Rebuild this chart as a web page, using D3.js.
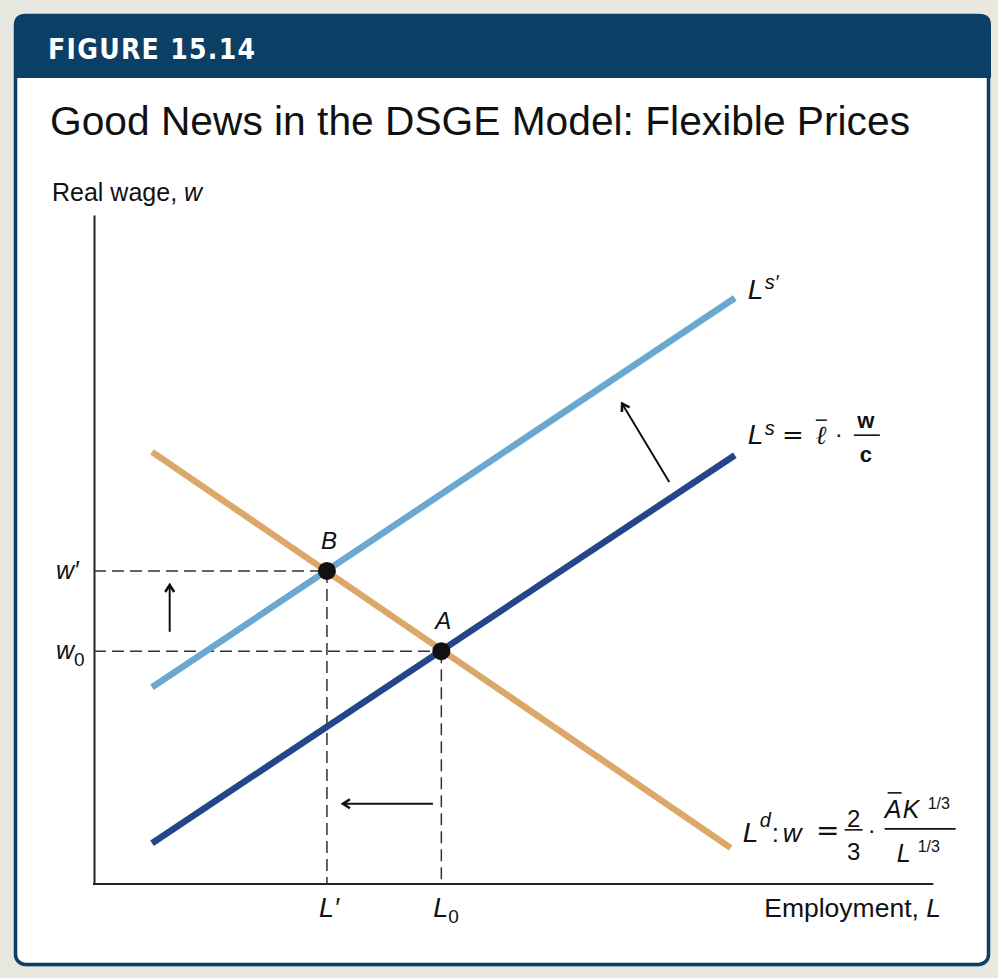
<!DOCTYPE html>
<html><head><meta charset="utf-8">
<script src="https://cdn.jsdelivr.net/npm/d3@7/dist/d3.min.js"></script>
<style>
html,body{margin:0;padding:0;background:#e8e8e1;}
svg{display:block;}
text{font-family:"Liberation Sans",Arial,Helvetica,sans-serif;fill:#111;}
.narrow{font-family:"Liberation Sans Narrow","Arial Narrow","Liberation Sans",sans-serif;font-stretch:condensed;}
</style></head>
<body>
<svg id="chart" width="998" height="978"></svg>
<script>
// ---------------- DATA ----------------
const figureLabel = "FIGURE 15.14";
const title = "Good News in the DSGE Model: Flexible Prices";
const yAxisTitle = "Real wage, ";
const xAxisTitle = "Employment, ";
// curves (employment L, real wage w), in 0-100 units
const lsL = [6.9, 76.2];      const lsW = [6.1, 64.1];       // Ls (original supply)
const lsPrimeL = [6.9, 76.2]; const lsPrimeW = [29.4, 87.6]; // Ls' (shifted supply)
const ldL = [6.9, 75.7];      const ldW = [64.6, 5.4];       // Ld (demand)
// equilibrium points
const pointNames = ["A", "B"];
const pointL = [41.3, 27.7];
const pointW = [34.8, 46.8];
// tick labels
const xTickMain = ["L", "L"]; const xTickSub = ["′", "0"]; const xTickValues = [27.7, 41.3];
const yTickMain = ["w", "w"]; const yTickSub = ["′", "0"]; const yTickValues = [46.8, 34.8];
// shift arrows [from L, from w, to L, to w]
const arrowFromL = [9.0, 40.3, 68.4];
const arrowFromW = [37.7, 12.0, 60.1];
const arrowToL   = [9.0, 29.6, 62.8];
const arrowToW   = [44.7, 12.0, 71.8];

// ---------------- CHART ----------------
const svg = d3.select("#chart");
const navy = "#0b3f66";

// card
svg.append("rect").attr("x",15).attr("y",16).attr("width",975).attr("height",951)
  .attr("rx",10).attr("fill","#cfd2cc");
svg.append("rect").attr("x",15.5).attr("y",15.5).attr("width",973).attr("height",949)
  .attr("rx",10).attr("fill","#fff").attr("stroke",navy).attr("stroke-width",3.5);
svg.append("path")
  .attr("d","M14,78 L14,25 Q14,14 25,14 L980,14 Q991,14 991,25 L991,78 Z")
  .attr("fill",navy);
svg.append("text").attr("x",48).attr("y",59).text(figureLabel)
  .attr("fill","#fff").style("fill","#fff")
  .style("font-family","'DejaVu Sans Condensed','DejaVu Sans',sans-serif")
  .style("font-stretch","condensed").style("font-weight","bold").style("font-size","28px")
  .attr("textLength",207).attr("lengthAdjust","spacing");
svg.append("text").attr("x",50).attr("y",135).text(title)
  .style("font-size","40px").attr("textLength",860).attr("lengthAdjust","spacingAndGlyphs");

// scales
const x = d3.scaleLinear().domain([0,100]).range([94,935]);
const y = d3.scaleLinear().domain([0,100]).range([884,215]);

// axes
const xAxis = svg.append("g").attr("transform",`translate(0,${y(0)})`)
  .call(d3.axisBottom(x).tickValues([]).tickSizeOuter(0));
const yAxis = svg.append("g").attr("transform",`translate(${x(0)},0)`)
  .call(d3.axisLeft(y).tickValues([]).tickSizeOuter(0));
svg.selectAll(".domain").attr("stroke","#222").attr("stroke-width",2);
xAxis.select(".domain").attr("d",`M${x(0)-1},0H${x(99.8)}`);

// axis titles
const yt = svg.append("text").attr("x",52).attr("y",201).style("font-size","25px");
yt.append("tspan").text(yAxisTitle);
yt.append("tspan").text("w").style("font-style","italic");
const xt = svg.append("text").attr("x",941).attr("y",917).attr("text-anchor","end").style("font-size","26.5px");
xt.append("tspan").text(xAxisTitle);
xt.append("tspan").text("L").style("font-style","italic");

// dashed guides
const dash = svg.append("g").attr("stroke","#333").attr("stroke-width",1.5)
  .attr("stroke-dasharray","12,6").attr("fill","none");
pointL.forEach((l,i)=>{
  dash.append("line").attr("x1",x(0)).attr("x2",x(l)).attr("y1",y(pointW[i])).attr("y2",y(pointW[i]));
  dash.append("line").attr("x1",x(l)).attr("x2",x(l)).attr("y1",y(pointW[i])).attr("y2",y(0));
});

// curves
const line = d3.line().x(d=>x(d[0])).y(d=>y(d[1]));
const curves = [
  {L:ldL, W:ldW, c:"#dca86a"},
  {L:lsL, W:lsW, c:"#23468a"},
  {L:lsPrimeL, W:lsPrimeW, c:"#6aa7d1"}
];
curves.forEach(cv=>{
  svg.append("path").datum(cv.L.map((l,i)=>[l,cv.W[i]]))
    .attr("d",line).attr("fill","none").attr("stroke",cv.c).attr("stroke-width",6.5);
});

// points
pointL.forEach((l,i)=>{
  svg.append("circle").attr("cx",x(l)).attr("cy",y(pointW[i])).attr("r",9).attr("fill","#111");
  svg.append("text").attr("x",x(l)+2).attr("y",y(pointW[i])-22).attr("text-anchor","middle")
    .style("font-size","24px").style("font-style","italic").text(pointNames[i]);
});

// arrows
svg.append("defs").append("marker").attr("id","arr")
  .attr("viewBox","0 0 12 12").attr("refX",2).attr("refY",6)
  .attr("markerWidth",12).attr("markerHeight",12).attr("markerUnits","userSpaceOnUse")
  .attr("orient","auto")
  .append("path").attr("d","M9,1.5 L2,6 L9,10.5").attr("fill","none").attr("stroke","#111").attr("stroke-width",2.6);
arrowFromL.forEach((l,i)=>{
  const x1=x(l), y1=y(arrowFromW[i]), x2=x(arrowToL[i]), y2=y(arrowToW[i]);
  svg.append("line").attr("x1",x2).attr("y1",y2).attr("x2",x1).attr("y2",y1)
    .attr("stroke","#111").attr("stroke-width",2).attr("marker-start","url(#arr)");
});

// tick labels
xTickValues.forEach((v,i)=>{
  const t = svg.append("text").attr("class","narrow").attr("x",x(v)-8).attr("y",917)
    .style("font-size","27px").style("font-style","italic");
  t.append("tspan").text(xTickMain[i]);
  if (xTickSub[i]==="0") t.append("tspan").text("0").attr("dy",6).style("font-size","19px").style("font-style","normal");
  else t.append("tspan").text(xTickSub[i]);
});
yTickValues.forEach((v,i)=>{
  const t = svg.append("text").attr("class","narrow").attr("x",56).attr("y",y(v)+8)
    .style("font-size","25px").style("font-style","italic");
  t.append("tspan").text(yTickMain[i]);
  if (yTickSub[i]==="0") t.append("tspan").text("0").attr("dy",7).style("font-size","19px").style("font-style","normal");
  else t.append("tspan").text(yTickSub[i]);
});

// ---- curve labels ----
function txt(xp,yp,s,size,opts={}){
  const t=svg.append("text").attr("x",xp).attr("y",yp).text(s).style("font-size",size+"px");
  if(opts.italic) t.style("font-style","italic");
  if(opts.bold) t.style("font-weight","bold");
  if(opts.anchor) t.attr("text-anchor",opts.anchor);
  if(opts.family) t.style("font-family",opts.family);
  return t;
}
function hline(x1,x2,yy,w=1.5){
  svg.append("line").attr("x1",x1).attr("x2",x2).attr("y1",yy).attr("y2",yy).attr("stroke","#111").attr("stroke-width",w);
}
// Ls'
const lpx = x(lsPrimeL[1])+13, lpy = y(lsPrimeW[1])+1;
txt(lpx, lpy, "L", 28, {italic:true});
txt(lpx+17, lpy-10, "s′", 20, {italic:true});
// Ls = l-bar * w/c
const lsx = x(lsL[1])+13, lsy = y(lsW[1])-11;
txt(lsx, lsy, "L", 28, {italic:true});
txt(lsx+17, lsy-9, "s", 20, {italic:true});
txt(lsx+45, lsy, "=", 26, {anchor:"middle", family:"'DejaVu Serif',serif"});
txt(lsx+73, lsy, "ℓ", 26, {anchor:"middle", italic:true, family:"'DejaVu Serif',serif"});
hline(lsx+68, lsx+79, lsy-24, 1.5);
txt(lsx+91, lsy-2, "·", 24, {anchor:"middle"});
txt(lsx+118, lsy-16, "w", 22, {anchor:"middle", bold:true});
hline(lsx+106, lsx+132, lsy-9, 1.6);
txt(lsx+118, lsy+18, "c", 22, {anchor:"middle", bold:true});
// Ld: w = 2/3 * (A K^1/3)/(L^1/3)
const ldx = x(ldL[1])+12, ldy = y(ldW[1])-6;
txt(ldx, ldy, "L", 28, {italic:true});
txt(ldx+17, ldy-15, "d", 20, {italic:true});
txt(ldx+29, ldy, ":", 26);
txt(ldx+40, ldy, "w", 26, {italic:true});
txt(ldx+85, ldy-2, "=", 28, {anchor:"middle", family:"'DejaVu Sans',sans-serif"});
txt(ldx+111, ldy-15, "2", 24, {anchor:"middle"});
hline(ldx+102, ldx+120, ldy-12, 1.6);
txt(ldx+111, ldy+18, "3", 24, {anchor:"middle"});
txt(ldx+129, ldy-4, "·", 24, {anchor:"middle"});
txt(ldx+142, ldy-24, "A", 25, {italic:true});
hline(ldx+145, ldx+159, ldy-49, 1.6);
txt(ldx+160, ldy-24, "K", 25, {italic:true});
txt(ldx+185, ldy-33, "1/3", 16);
hline(ldx+142, ldx+213, ldy-13, 1.6);
txt(ldx+154, ldy+20, "L", 25, {italic:true});
txt(ldx+175, ldy+10, "1/3", 16);
</script>
</body></html>
